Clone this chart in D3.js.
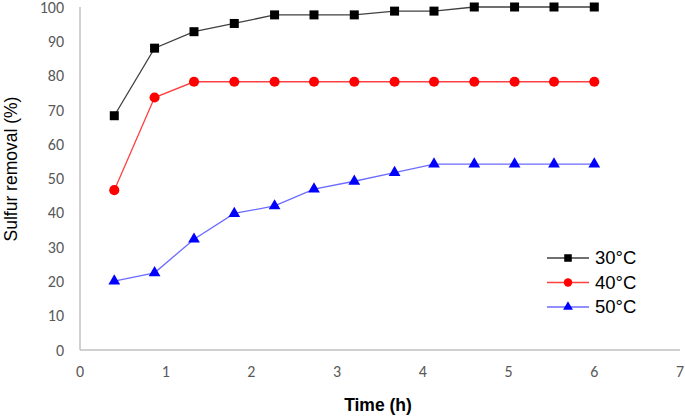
<!DOCTYPE html>
<html><head><meta charset="utf-8">
<script src="https://cdn.jsdelivr.net/npm/d3@7"></script>
<style>body{margin:0;background:#fff}svg{display:block}</style>
</head><body>
<svg id="c" width="685" height="420"></svg>
<script>
const times = [0.4, 0.87, 1.33, 1.8, 2.27, 2.73, 3.2, 3.67, 4.13, 4.6, 5.07, 5.53, 6.0];
const s30 = [68.3, 88, 92.8, 95.2, 97.7, 97.7, 97.7, 98.8, 98.8, 100, 100, 100, 100];
const s40 = [46.6, 73.6, 78.2, 78.2, 78.2, 78.2, 78.2, 78.2, 78.2, 78.2, 78.2, 78.2, 78.2];
const s50 = [20.1, 22.5, 32.3, 39.8, 42, 46.9, 49.2, 51.7, 54.2, 54.2, 54.2, 54.2, 54.2];
const seriesNames = ["30°C", "40°C", "50°C"];
const xTicks = [0,1,2,3,4,5,6,7];
const yTicks = [0,10,20,30,40,50,60,70,80,90,100];

const svg = d3.select("#c");
const x = d3.scaleLinear().domain([0,7]).range([80,680]);
const y = d3.scaleLinear().domain([0,100]).range([350,7]);

const series = [
  {name: seriesNames[0], vals: s30, line: "#404040", fill: "#000", sym: d3.symbolSquare, size: 81},
  {name: seriesNames[1], vals: s40, line: "#ff4040", fill: "#ff0000", sym: d3.symbolCircle, size: 80},
  {name: seriesNames[2], vals: s50, line: "#6b6bff", fill: "#0000ff", sym: d3.symbolTriangle, size: 60}
];

// axes lines
svg.append("line").attr("x1",x(0)).attr("x2",x(0)).attr("y1",y(100)).attr("y2",y(0)).attr("stroke","#c0c0c0").attr("stroke-width",1.5);
svg.append("line").attr("x1",x(0)).attr("x2",x(7)).attr("y1",y(0)).attr("y2",y(0)).attr("stroke","#c0c0c0").attr("stroke-width",1.5);

// tick labels
svg.selectAll(".yt").data(yTicks).enter().append("text")
  .attr("x",64).attr("y",d=>y(d)).attr("dy","0.35em").attr("text-anchor","end")
  .attr("font-family","Carlito, 'Liberation Sans', sans-serif").attr("font-size",16).attr("fill","#595959").text(d=>d);
svg.selectAll(".xt").data(xTicks).enter().append("text")
  .attr("x",d=>x(d)).attr("y",377).attr("text-anchor","middle")
  .attr("font-family","Carlito, 'Liberation Sans', sans-serif").attr("font-size",16).attr("fill","#595959").text(d=>d);

// axis titles
svg.append("text").attr("transform","translate(17,169) rotate(-90)").attr("text-anchor","middle")
  .attr("font-family","'Liberation Sans', Arial, sans-serif").attr("font-size",17.5).attr("fill","#000").text("Sulfur removal (%)");
svg.append("text").attr("x",378).attr("y",411).attr("text-anchor","middle")
  .attr("font-family","'Liberation Sans', Arial, sans-serif").attr("font-size",17.5).attr("font-weight","bold").attr("fill","#000").text("Time (h)");

const line = d3.line().x(d=>x(d[0])).y(d=>y(d[1]));
series.forEach(s=>{
  const pts = times.map((t,i)=>[t,s.vals[i]]);
  svg.append("path").attr("d",line(pts)).attr("fill","none").attr("stroke",s.line).attr("stroke-width",1.3);
  svg.selectAll(null).data(pts).enter().append("path")
    .attr("d",d3.symbol().type(s.sym).size(s.size))
    .attr("transform",d=>`translate(${x(d[0])},${y(d[1])})`)
    .attr("fill",s.fill);
});

// legend
series.forEach((s,i)=>{
  const ly = 258 + i*24.5;
  svg.append("line").attr("x1",547).attr("x2",589).attr("y1",ly).attr("y2",ly).attr("stroke",s.line).attr("stroke-width",1.3);
  svg.append("path").attr("d",d3.symbol().type(s.sym).size(s.size*0.7)).attr("transform",`translate(568,${ly})`).attr("fill",s.fill);
  svg.append("text").attr("x",595).attr("y",ly).attr("dy","0.35em")
    .attr("font-family","'Liberation Sans', Arial, sans-serif").attr("font-size",18.5).attr("fill","#000").text(s.name);
});
</script>
</body></html>
